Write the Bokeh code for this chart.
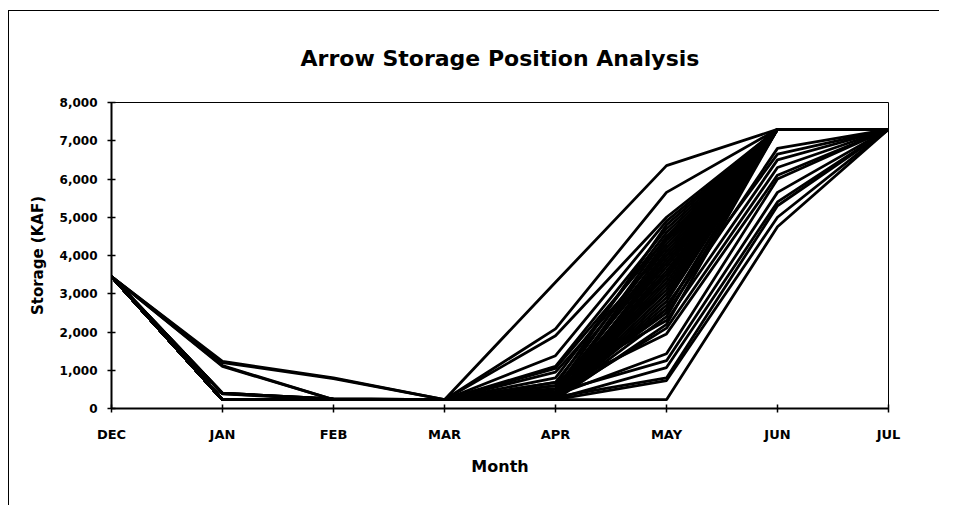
from bokeh.plotting import figure
from bokeh.models import Range1d, FixedTicker, NumeralTickFormatter
from bokeh.embed import file_html
from bokeh.resources import INLINE

months = ["DEC", "JAN", "FEB", "MAR", "APR", "MAY", "JUN", "JUL"]
y_ticks = [0, 1000, 2000, 3000, 4000, 5000, 6000, 7000, 8000]

# storage (KAF) per month, one entry per trace (season)
dec = [3450, 3450, 3450, 3450, 3450, 3450, 3450, 3450, 3450, 3450, 3450, 3450,
       3450, 3450, 3450, 3450, 3450, 3450, 3450, 3450, 3450, 3450, 3450, 3450,
       3450, 3450, 3450, 3450, 3450, 3450, 3450, 3450, 3450, 3450, 3450,
       3450, 3450, 3450, 3450, 3450, 3450, 3450, 3450, 3450, 3450]
jan = [1230, 230, 1120, 230, 400, 230, 230, 390, 230, 230, 1200, 230,
       230, 380, 230, 230, 230, 1100, 230, 230, 230, 400, 230, 230,
       230, 230, 230, 230, 400, 230, 230, 230, 230, 230, 230,
       230, 230, 230, 230, 230, 230, 230, 230, 230, 230]
feb = [800, 230, 230, 230, 250, 230, 230, 240, 230, 230, 780, 230,
       230, 240, 230, 230, 230, 230, 230, 230, 230, 250, 230, 230,
       230, 230, 230, 230, 250, 230, 230, 230, 230, 230, 230,
       230, 230, 230, 230, 230, 230, 230, 230, 230, 230]
mar = [230, 230, 230, 230, 230, 230, 230, 230, 230, 230, 230, 230,
       230, 230, 230, 230, 230, 230, 230, 230, 230, 230, 230, 230,
       230, 230, 230, 230, 230, 230, 230, 230, 230, 230, 230,
       230, 230, 230, 230, 230, 230, 230, 230, 230, 230]
apr = [3300, 2080, 1900, 1380, 1100, 1050, 800, 950, 680, 520, 420, 350,
       300, 300, 250, 230, 280, 230, 320, 250, 230, 400, 600, 230,
       230, 230, 300, 250, 420, 350, 520, 300, 680, 400, 250,
       230, 300, 250, 450, 350, 230, 600, 280, 500, 230]
may = [6350, 5650, 5000, 4900, 4700, 4450, 4600, 4200, 4300, 4000, 3800, 4400,
       3600, 3900, 3400, 3200, 3000, 2800, 2600, 2400, 3700, 4100, 3500, 2200,
       230, 730, 800, 1070, 1250, 1430, 1950, 2100, 2300, 2500, 2700,
       3300, 3800, 2900, 4200, 3100, 2600, 4800, 3500, 4500, 4000]
jun = [7300, 7300, 7300, 7300, 7300, 7300, 7300, 7300, 7300, 7300, 7300, 7300,
       7300, 7300, 7300, 7300, 7300, 7300, 7300, 7300, 7300, 7300, 7300, 7300,
       4750, 5000, 5300, 5400, 5650, 6000, 6100, 6300, 6500, 6800, 6650,
       7300, 7300, 7300, 7300, 7300, 7300, 7300, 7300, 7300, 7300]
jul = [7300, 7300, 7300, 7300, 7300, 7300, 7300, 7300, 7300, 7300, 7300, 7300,
       7300, 7300, 7300, 7300, 7300, 7300, 7300, 7300, 7300, 7300, 7300, 7300,
       7300, 7300, 7300, 7300, 7300, 7300, 7300, 7300, 7300, 7300, 7300,
       7300, 7300, 7300, 7300, 7300, 7300, 7300, 7300, 7300, 7300]

series = [dec, jan, feb, mar, apr, may, jun, jul]
xs = [list(range(len(months))) for _ in dec]
ys = [[s[i] for s in series] for i in range(len(dec))]

FONT = "DejaVu Sans"

p = figure(width=931, height=495, output_backend="svg", toolbar_location=None,
           x_range=Range1d(0, len(months) - 1), y_range=Range1d(0, 8000),
           min_border_left=102, min_border_right=52, min_border_top=91,
           min_border_bottom=98)
p.styles = {"margin-left": "8px", "margin-top": "10px",
            "border-top": "1px solid #000", "border-left": "1px solid #000"}

p.title.text = "Arrow Storage Position Analysis"
p.title.text_font = FONT
p.title.text_font_size = "22px"
p.title.text_font_style = "bold"
p.title.text_color = "black"
p.title.align = "center"
p.title.standoff = 64

p.multi_line(xs, ys, line_color="black", line_width=2.8)

p.grid.visible = False
p.outline_line_color = "black"
p.outline_line_width = 1

p.xaxis.ticker = FixedTicker(ticks=list(range(len(months))))
p.xaxis.major_label_overrides = {i: m for i, m in enumerate(months)}
p.xaxis.axis_label = "Month"
p.yaxis.ticker = FixedTicker(ticks=y_ticks)
p.yaxis.formatter = NumeralTickFormatter(format="0,0")
p.yaxis.axis_label = "Storage (KAF)"

for ax in (p.xaxis[0], p.yaxis[0]):
    ax.axis_line_color = "black"
    ax.axis_line_width = 2
    ax.major_tick_line_color = "black"
    ax.major_tick_line_width = 1.5
    ax.major_tick_in = 4
    ax.major_tick_out = 4
    ax.minor_tick_line_color = None
    ax.major_label_text_font = FONT
    ax.major_label_text_font_style = "bold"
    ax.major_label_text_color = "black"
    ax.axis_label_text_font = FONT
    ax.axis_label_text_font_style = "bold"
    ax.axis_label_text_color = "black"

p.xaxis.major_label_text_font_size = "13px"
p.xaxis.major_label_standoff = 14
p.xaxis.axis_label_text_font_size = "16px"
p.xaxis.axis_label_standoff = 12
p.yaxis.major_label_text_font_size = "12px"
p.yaxis.major_label_standoff = 10
p.yaxis.axis_label_text_font_size = "15px"
p.yaxis.axis_label_standoff = 10

open("out.html", "w").write(file_html(p, INLINE))
